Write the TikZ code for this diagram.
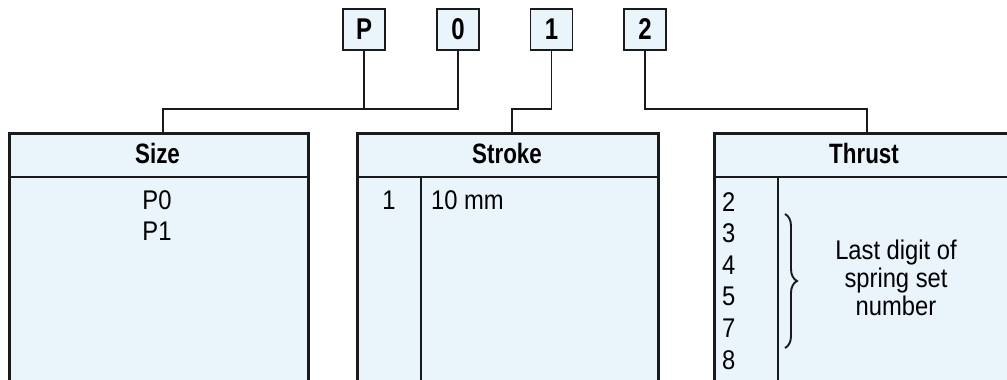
\documentclass[tikz,border=0pt]{standalone}
\usepackage{fontspec}
\setmainfont{Liberation Sans}[FakeStretch=0.88]
\newfontfamily\hdfont{Liberation Sans}[FakeStretch=0.8]
\usetikzlibrary{decorations.pathreplacing}
\definecolor{boxfill}{HTML}{E9F4FB}
\definecolor{boxline}{HTML}{1A1A1A}
\tikzset{
 letterbox/.style={draw=boxline, line width=1.5pt, fill=boxfill, minimum width=42pt, minimum height=41pt, inner sep=0pt, font=\hdfont\bfseries\fontsize{30}{30}\selectfont},
 tablebox/.style={draw=boxline, line width=2.6pt, fill=boxfill, inner sep=0pt, anchor=north west},
 conn/.style={draw=boxline, line width=1.3pt},
 rulel/.style={draw=boxline, line width=2.6pt},
 hd/.style={font=\hdfont\bfseries\fontsize{28}{28}\selectfont, inner sep=0pt, anchor=base},
 txt/.style={font=\fontsize{27}{30}\selectfont, inner sep=0pt, anchor=base},
 txtl/.style={txt, anchor=base west},
 bracebar/.style={draw=boxline, line width=1.9pt, decorate, decoration={brace, amplitude=12pt}},
}
\begin{document}
\begin{tikzpicture}[x=1pt,y=-1pt]
\useasboundingbox (0,0) rectangle (1007,380);
\clip (0,0) rectangle (1007,380);

% tables
\node[tablebox, minimum width=299pt, minimum height=249pt] (size) at (8,132) {};
\node[tablebox, minimum width=301pt, minimum height=249pt] (stroke) at (356,132) {};
\node[tablebox, minimum width=301pt, minimum height=249pt] (thrust) at (713,132) {};

% header rules and column rules
\draw[rulel] (8,177) -- (307,177);
\draw[rulel] (356,177) -- (657,177);
\draw[rulel] (713,177) -- (1014,177);
\draw[rulel] (421,177) -- (421,382);
\draw[rulel] (778,177) -- (778,382);

% headers
\node[hd] (sizeh) at (157.5,163) {Size};
\node[hd] (strokeh) at (507,163) {Stroke};
\node[hd] (thrusth) at (864,163) {Thrust};

% size content
\node[txt] (p0) at (157,209) {P0};
\node[txt] (p1) at (157,240) {P1};

% stroke content
\node[txt] (s1) at (389,209) {1};
\node[txtl] (s10) at (431,209) {10 mm};

% thrust content
\node[txtl] (t2) at (722,211) {2};
\node[txtl] (t3) at (722,242.6) {3};
\node[txtl] (t4) at (722,274.2) {4};
\node[txtl] (t5) at (722,305.8) {5};
\node[txtl] (t7) at (722,337.4) {7};
\node[txtl] (t8) at (722,369) {8};
\coordinate (brtop) at (785,214);
\coordinate (brbot) at (785,348);
\draw[bracebar] (brtop) -- (brbot);
\node[txt] (ld1) at (896,259) {Last digit of};
\node[txt] (ld2) at (896,287) {spring set};
\node[txt] (ld3) at (896,315) {number};

% letter boxes
\node[letterbox] (lP) at (364,29.5) {P};
\node[letterbox] (l0) at (458,29.5) {0};
\node[letterbox] (l1) at (551.5,29.5) {1};
\node[letterbox] (l2) at (645,29.5) {2};

% connectors
\coordinate (jS) at (163,109);
\coordinate (jT) at (512,109);
\coordinate (jU) at (867,109);
\draw[conn] (lP.south) -- (lP.south |- jS);
\draw[conn] (l0.south) |- (jS) -- (size.north -| jS);
\draw[conn] (l1.south) |- (jT) -- (stroke.north -| jT);
\draw[conn] (l2.south) |- (jU) -- (thrust.north -| jU);
\end{tikzpicture}
\end{document}
